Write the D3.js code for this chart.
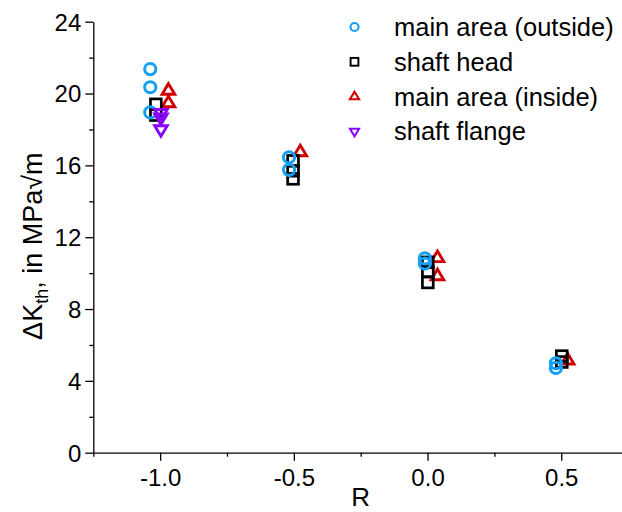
<!DOCTYPE html>
<html>
<head>
<meta charset="utf-8">
<script src="https://cdn.jsdelivr.net/npm/d3@7"></script>
<style>
  html, body { margin: 0; padding: 0; background: #fff; }
  svg { display: block; font-family: "Liberation Sans", Arial, sans-serif; }
</style>
</head>
<body>
<svg id="chart" width="622" height="512"></svg>
<script>
// ---- data ----
const seriesNames = ["main area (outside)", "shaft head", "main area (inside)", "shaft flange"];

const outsideR = [-1.037, -1.037, -1.037, -0.518, -0.518, -0.010, -0.010, 0.480, 0.480];
const outsideK = [21.36, 20.35, 18.95, 16.45, 15.75, 10.82, 10.53, 4.98, 4.72];

const headR = [-1.016, -1.016, -0.503, -0.503, -0.503, 0.001, 0.001, 0.001, 0.502, 0.502];
const headK = [19.40, 18.80, 16.25, 15.70, 15.25, 10.60, 10.10, 9.48, 5.38, 5.05];

const insideR = [-0.969, -0.969, -0.476, 0.037, 0.037, 0.524];
const insideK = [20.17, 19.47, 16.74, 10.85, 9.84, 5.15];

const flangeR = [-0.997, -0.997, -0.997];
const flangeK = [18.90, 18.65, 18.00];

const xTickValues = [-1.0, -0.5, 0.0, 0.5];
const xTickLabels = ["-1.0", "-0.5", "0.0", "0.5"];
const xMinorTicks = [-1.25, -0.75, -0.25, 0.25];
const yTickValues = [0, 4, 8, 12, 16, 20, 24];
const yMinorTicks = [2, 6, 10, 14, 18, 22];

// ---- layout ----
const svg = d3.select("#chart");
const x = d3.scaleLinear().domain([-1.25, 0.75]).range([93.3, 628.1]);
const y = d3.scaleLinear().domain([0, 24]).range([452.7, 21.7]);

const axisG = svg.append("g");

// x axis
const xAx = axisG.append("g").attr("transform", `translate(0,${y(0)})`)
  .call(d3.axisBottom(x).tickValues(xTickValues)
    .tickFormat((d, i) => xTickLabels[i]).tickSize(8).tickPadding(5).tickSizeOuter(0));
axisG.append("g").attr("transform", `translate(0,${y(0)})`)
  .call(d3.axisBottom(x).tickValues(xMinorTicks).tickFormat("").tickSize(4).tickSizeOuter(0))
  .select(".domain").remove();

// y axis
const yAx = axisG.append("g").attr("transform", `translate(${x(-1.25)},0)`)
  .call(d3.axisLeft(y).tickValues(yTickValues).tickFormat(d3.format("d")).tickSize(8).tickPadding(4).tickSizeOuter(0));
axisG.append("g").attr("transform", `translate(${x(-1.25)},0)`)
  .call(d3.axisLeft(y).tickValues(yMinorTicks).tickFormat("").tickSize(4).tickSizeOuter(0))
  .select(".domain").remove();

axisG.selectAll(".domain").attr("stroke", "#000").attr("stroke-width", 1.3);
axisG.selectAll(".tick line").attr("stroke", "#000").attr("stroke-width", 1.3);
axisG.selectAll(".tick text").attr("font-size", 24).attr("fill", "#000")
  .attr("font-family", "'Liberation Sans', Arial, sans-serif");
yAx.selectAll(".tick text").attr("dy", "0.35em");
xAx.selectAll(".tick text").attr("dy", "0.85em");

// axis titles
svg.append("text").attr("x", x(-0.25)).attr("y", 506).attr("text-anchor", "middle")
  .attr("font-size", 26).text("R");

const yt = svg.append("text").attr("transform", `translate(42,${y(11.5)}) rotate(-90)`)
  .attr("text-anchor", "middle").attr("font-size", 27);
yt.append("tspan").text("ΔK");
yt.append("tspan").attr("font-size", 18).attr("dy", 6).text("th");
yt.append("tspan").attr("dy", -6).text(", in MPa√m");

// ---- markers ----
const blue = "#14A0F5", red = "#D10000", purple = "#8A05FF";

function drawMarker(g, type, cx, cy, s) {
  if (type === "circle") {
    g.append("circle").attr("cx", cx).attr("cy", cy).attr("r", 5.6 * s)
      .attr("fill", "none").attr("stroke", blue).attr("stroke-width", 3 * s);
  } else if (type === "square") {
    const h = 5.4 * s;
    g.append("rect").attr("x", cx - h).attr("y", cy - h).attr("width", 2 * h).attr("height", 2 * h)
      .attr("fill", "none").attr("stroke", "#000").attr("stroke-width", 2.7 * s);
  } else if (type === "up") {
    const r = 6.8 * s;
    g.append("path").attr("d", `M${cx},${cy - r}L${cx + r * 0.93},${cy + r * 0.55}L${cx - r * 0.93},${cy + r * 0.55}Z`)
      .attr("fill", "none").attr("stroke", red).attr("stroke-width", 2.9 * s).attr("stroke-linejoin", "miter");
  } else if (type === "down") {
    const r = 6.8 * s;
    g.append("path").attr("d", `M${cx},${cy + r}L${cx + r * 0.93},${cy - r * 0.55}L${cx - r * 0.93},${cy - r * 0.55}Z`)
      .attr("fill", "none").attr("stroke", purple).attr("stroke-width", 2.9 * s).attr("stroke-linejoin", "miter");
  }
}

const series = [
  { type: "up", R: insideR, K: insideK },
  { type: "square", R: headR, K: headK },
  { type: "circle", R: outsideR, K: outsideK },
  { type: "down", R: flangeR, K: flangeK }
];

const plot = svg.append("g");
series.forEach(s => {
  const g = plot.append("g");
  s.R.forEach((r, i) => drawMarker(g, s.type, x(r), y(s.K[i]), 1));
});

// ---- legend ----
const legendTypes = ["circle", "square", "up", "down"];
const leg = svg.append("g");
seriesNames.forEach((name, i) => {
  const cy = 27 + i * 34.8;
  drawMarker(leg, legendTypes[i], 354.5, cy, 0.72);
  leg.append("text").attr("x", 394).attr("y", cy).attr("dy", "0.35em")
    .attr("font-size", 25.5).text(name);
});
</script>
</body>
</html>
